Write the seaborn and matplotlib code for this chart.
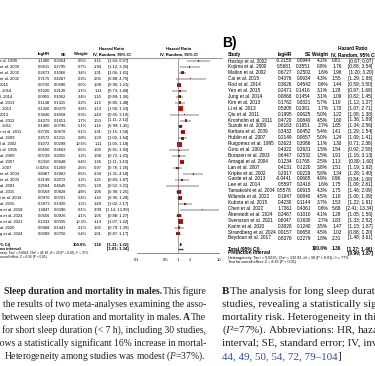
import matplotlib
matplotlib.use('Agg')  # no display

import numpy as np
import pandas as pd
import matplotlib.pyplot as plt
from matplotlib.ticker import NullLocator
import seaborn as sns

# === Panel A: short sleep (< 7 h), study names are cut by the page edge ===
studyA = ["t al. 1990", "et al. 2000", "et al. 2002", "et al. 2002", "2015",
          ". 2014", "l. 2014", "al. 2013", ". 2013", "2013",
          "al. 2012", ". 2011", "r et al. 2011", "al. 2009", "l al. 2002",
          "t al. 1995", "al. 2009", "al. 2007", ". 2007", "et al. 2004",
          "et al. 2003", "al. 2003", "al. 2015", "i et al. 2004", "al. 2015",
          "a et al. 2018", "a et al. 2024", "n et al. 2021", "al. 2020", "g et al. 2024"]
logA = [1.1460, 0.6611, 0.2673, 0.7175, 0.0726, 0.1020, 0.0955, 0.1148, 0.1326, 0.3646,
        0.4279, 0.1460, 0.2726, 0.2572, 0.1072, 0.0550, 0.0739, 0.2310, -0.0256, 0.8487,
        0.2198, 0.2564, 0.0569, 0.0976, 0.3973, 1.3847, 0.0556, 0.1333, 0.0468, 0.0089]
seA = [0.3354, 0.2795, 0.1066, 0.4287, 0.0586, 0.2126, 0.1062, 0.1415, 0.0379, 0.4058,
       0.1651, 0.0796, 0.0678, 0.1211, 0.0298, 0.2803, 0.2055, 0.0648, 0.1269, 0.2962,
       0.2072, 0.4645, 0.0828, 0.0761, 0.1926, 0.6396, 0.0926, 0.0335, 0.1441, 0.0756]
wA = [0.5, 0.7, 3.4, 0.3, 6.0, 1.1, 3.4, 2.2, 9.6, 0.3,
      1.7, 5.1, 6.1, 2.8, 10.6, 0.6, 1.2, 6.4, 2.6, 0.6,
      1.2, 0.2, 4.8, 5.4, 1.3, 0.1, 4.1, 10.2, 2.1, 5.4]
hrA = [3.15, 1.94, 1.31, 2.05, 1.08, 1.11, 1.10, 1.12, 1.14, 1.44,
       1.53, 1.16, 1.31, 1.29, 1.11, 1.06, 1.08, 1.26, 0.97, 2.34,
       1.25, 1.29, 1.06, 1.10, 1.49, 3.99, 1.06, 1.14, 1.05, 1.01]
loA = [1.63, 1.12, 1.06, 0.88, 0.96, 0.73, 0.89, 0.85, 1.06, 0.65,
       1.11, 0.99, 1.15, 1.02, 1.05, 0.61, 0.72, 1.11, 0.76, 1.31,
       0.83, 0.52, 0.90, 0.95, 1.02, 1.14, 0.88, 1.07, 0.79, 0.87]
hiA = [6.07, 3.35, 1.61, 4.75, 1.21, 1.68, 1.36, 1.48, 1.23, 3.19,
       2.12, 1.35, 1.50, 1.64, 1.18, 1.83, 1.61, 1.43, 1.25, 4.18,
       1.87, 3.21, 1.25, 1.28, 2.17, 13.99, 1.27, 1.22, 1.39, 1.17]
totalA = [1.16, 1.11, 1.22]
predA = [1.01, 1.34]
hetA = "neity: Tau² = 0.0041; Chi² = 46.18, df = 29 (P = 0.02); I² = 37%"
testA = "overall effect: Z = 6.56 (P < 0.01)"

# === Panel B: long sleep (> 8 h) ===
studyB = ["Heslop et al. 2002", "Kojima et al. 2000", "Mallon et al. 2002", "Cai et al. 2015",
          "Rod et al. 2014", "Yeo et al. 2015", "Jung et al. 2014", "Kim et al. 2013",
          "Li et al. 2013", "Qiu et al. 2011", "Kronholm et al. 2011", "Suzuki et al. 2009",
          "Ikehara et al. 2009", "Hublin et al. 2007", "Ruigomez et al. 1995", "Goto et al. 2003",
          "Burazeri et al. 2003", "Amagai et al. 2004", "Lan et al. 2007", "Kripke et al. 2002",
          "Garde et al. 2013", "Lee et al. 2014", "Tamakoshi et al. 2004", "Wilunda et al. 2022",
          "Kubota et al. 2015", "Chen et al. 2022", "Åkerstedt et al. 2024", "Svensson et al. 2021",
          "Karim et al. 2020", "Strandberg et al. 2024", "Beydoun et al. 2017"]
logB = [-0.2155, 0.5681, 0.6727, 0.4376, 0.3626, 0.2471, 0.0868, 0.1762, 0.5305, 0.1995,
        0.4720, 0.6163, 0.3432, 0.2149, 0.2623, 0.4322, 0.6447, 0.1234, 0.4131, 0.2917,
        -0.0441, 0.5597, 0.5578, 0.1647, 0.4230, 1.7361, 0.2467, 0.6047, 0.3828, 0.0157, 0.8379]
seB = [0.0944, 0.3551, 0.2502, 0.0934, 0.4542, 0.1416, 0.1454, 0.0321, 0.2381, 0.0625,
       0.0840, 0.1651, 0.0452, 0.0657, 0.3086, 0.2631, 0.2532, 0.1768, 0.1220, 0.0229,
       0.0665, 0.2416, 0.0915, 0.0840, 0.1144, 0.4361, 0.1010, 0.1630, 0.1240, 0.0650, 0.2279]
wB = [4.2, 0.8, 1.6, 4.3, 0.6, 3.1, 3.1, 5.7, 1.7, 5.0,
      4.5, 2.7, 5.4, 5.0, 1.1, 1.5, 1.5, 2.5, 3.8, 5.8,
      4.9, 1.6, 4.3, 4.5, 3.7, 0.6, 4.1, 2.7, 3.5, 4.5, 1.8]
hrB = [0.81, 1.76, 1.96, 1.55, 1.44, 1.28, 1.09, 1.19, 1.70, 1.22,
       1.60, 1.85, 1.41, 1.24, 1.30, 1.54, 1.91, 1.13, 1.51, 1.34,
       0.96, 1.75, 1.75, 1.18, 1.53, 5.68, 1.28, 1.83, 1.47, 1.02, 2.31]
loB = [0.67, 0.88, 1.20, 1.29, 0.59, 0.97, 0.82, 1.12, 1.07, 1.08,
       1.36, 1.34, 1.29, 1.09, 0.71, 0.92, 1.16, 0.80, 1.19, 1.28,
       0.84, 1.09, 1.46, 1.00, 1.22, 2.41, 1.05, 1.33, 1.15, 0.88, 1.48]
hiB = [0.97, 3.54, 3.20, 1.86, 3.50, 1.69, 1.45, 1.27, 2.71, 1.38,
       1.89, 2.56, 1.54, 1.41, 2.38, 2.58, 3.13, 1.60, 1.92, 1.40,
       1.09, 2.81, 2.09, 1.39, 1.91, 13.34, 1.56, 2.52, 1.87, 1.20, 3.61]
totalB = [1.36, 1.27, 1.46]
predB = [0.99, 1.87]
hetB = "Heterogeneity: Tau² = 0.0225; Chi² = 132.92, df = 30 (P < 0.01); I² = 77%"
testB = "Test for overall effect: Z = 8.45 (P < 0.01)"

ticks = [0.1, 0.5, 1, 2, 10]
tick_labels = ["0.1", "0.5", "1", "2", "10"]

# === Style ===
sns.set_style('white')
plt.rcParams['font.family'] = ['Liberation Sans', 'DejaVu Sans']
plt.rcParams['mathtext.fontset'] = 'custom'
plt.rcParams['mathtext.rm'] = 'Liberation Serif'
plt.rcParams['mathtext.it'] = 'Liberation Serif:italic'

W, H = 375, 366
fig = plt.figure(figsize=(W / 100, H / 100), dpi=100)
ax = fig.add_axes([0, 0, 1, 1])
ax.set_xlim(0, W)
ax.set_ylim(H, 0)
ax.axis('off')

fsA, fsB = 3.0, 3.4
rowsA = 61 + 5.95 * np.arange(len(studyA))
rowsB = 61 + 5.9 * np.arange(len(studyB))


def txt(x, y, s, size, ha='left', bold=False, **kw):
    return ax.text(x, y, s, fontsize=size, ha=ha, va='center',
                   fontweight='bold' if bold else 'normal', color='black', **kw)


def ci(lo, hi):
    return f"[{lo:.2f}; {hi:.2f}]"


# --- table A ---
txt(112, 49, "Hazard Ratio", fsA, 'center', True)
txt(179, 49, "Hazard Ratio", fsA, 'center', True)
txt(50, 54.5, "logHR", fsA, 'right', True)
txt(66, 54.5, "SE", fsA, 'right', True)
txt(88, 54.5, "Weight", fsA, 'right', True)
txt(112, 54.5, "IV, Random, 95% CI", fsA, 'center', True)
txt(179, 54.5, "IV, Random, 95% CI", fsA, 'center', True)
ax.plot([0, 222], [57.5, 57.5], color='#444444', lw=0.4)

for i, y in enumerate(rowsA):
    txt(0, y, studyA[i], fsA)
    txt(50, y, f"{logA[i]:.4f}", fsA, 'right')
    txt(66, y, f"{seA[i]:.4f}", fsA, 'right')
    txt(87, y, f"{wA[i]:.1f}%", fsA, 'right')
    txt(102, y, f"{hrA[i]:.2f}", fsA, 'right')
    txt(128.5, y, ci(loA[i], hiA[i]), fsA, 'right')

yTotA = rowsA[-1] + 11
yPredA = yTotA + 4
txt(0, yTotA, "% CI)", fsA, bold=True)
txt(87, yTotA, "100.0%", fsA, 'right', True)
txt(102, yTotA, f"{totalA[0]:.2f}", fsA, 'right', True)
txt(128.5, yTotA, ci(totalA[1], totalA[2]), fsA, 'right', True)
txt(0, yPredA, "on interval", fsA, bold=True)
txt(128.5, yPredA, ci(predA[0], predA[1]), fsA, 'right', True)
txt(0, yPredA + 4, hetA, 2.3)
txt(0, yPredA + 8, testA, 2.3)

# --- forest A ---
fax = fig.add_axes([137 / W, 1 - 253 / H, 82 / W, (253 - 57.5) / H])
fax.set_facecolor('none')
forestA = pd.DataFrame({'hr': hrA, 'lo': loA, 'hi': hiA, 'w': wA, 'y': rowsA})
fax.hlines(forestA['y'], forestA['lo'], forestA['hi'], color='black', lw=0.35)
sns.scatterplot(data=forestA, x='hr', y='y', size='w', size_norm=(0, max(wA)),
                sizes=(0, 14), marker='s', color='#cc1111', linewidth=0,
                legend=False, ax=fax)
fax.axvline(1, color='#555555', lw=0.4)
fax.fill([totalA[1], totalA[0], totalA[2], totalA[0]],
         [yTotA, yTotA - 1.6, yTotA, yTotA + 1.6], facecolor='#222222', edgecolor='black', lw=0.3)
fax.hlines(yPredA, predA[0], predA[1], color='#aa1111', lw=1.0)
fax.set_xscale('log')
fax.set_xlim(0.1, 10)
fax.set_ylim(253, 57.5)
fax.set_xticks(ticks)
fax.set_xticklabels(tick_labels, fontsize=fsA)
fax.xaxis.set_minor_locator(NullLocator())
fax.set_yticks([])
fax.set_xlabel('')
fax.set_ylabel('')
fax.tick_params(axis='x', length=2, width=0.4, pad=1.5, colors='black')
for side in ['left', 'right', 'top']:
    fax.spines[side].set_visible(False)
fax.spines['bottom'].set_linewidth(0.4)
fax.spines['bottom'].set_color('#333333')

# --- table B ---
ax.text(222, 43, "B)", fontsize=10, fontweight='bold', va='center', ha='left', color='black')
txt(353, 49, "Hazard Ratio", fsB, 'center', True)
txt(228, 54.5, "Study", fsB, bold=True)
txt(292, 54.5, "logHR", fsB, 'right', True)
txt(311, 54.5, "SE", fsB, 'right', True)
txt(328, 54.5, "Weight", fsB, 'right', True)
txt(353, 54.5, "IV, Random, 95% CI", fsB, 'center', True)
ax.plot([228, W], [57.5, 57.5], color='#444444', lw=0.4)

for i, y in enumerate(rowsB):
    txt(228, y, studyB[i], fsB)
    txt(292, y, f"{logB[i]:.4f}", fsB, 'right')
    txt(311, y, f"{seB[i]:.4f}", fsB, 'right')
    txt(328, y, f"{wB[i]:.1f}%", fsB, 'right')
    txt(341.5, y, f"{hrB[i]:.2f}", fsB, 'right')
    txt(372.5, y, ci(loB[i], hiB[i]), fsB, 'right')

yTotB = rowsB[-1] + 11
yPredB = yTotB + 4
txt(228, yTotB, "Total (95% CI)", fsB, bold=True)
txt(328, yTotB, "100.0%", fsB, 'right', True)
txt(341.5, yTotB, f"{totalB[0]:.2f}", fsB, 'right', True)
txt(372.5, yTotB, ci(totalB[1], totalB[2]), fsB, 'right', True)
txt(228, yPredB, "Prediction interval", fsB, bold=True)
txt(372.5, yPredB, ci(predB[0], predB[1]), fsB, 'right', True)
txt(228, yPredB + 4.5, hetB, 2.7)
txt(228, yPredB + 8.5, testB, 2.7)

# --- caption, two columns cut by the crop ---
renderer = fig.canvas.get_renderer()
ink = '#231f20'
B_ = {'fontweight': 'bold'}
N_ = {}


def style(st, size):
    kw = {'color': ink, 'family': 'Liberation Serif', 'fontsize': size, 'va': 'baseline'}
    kw.update(st)
    return kw


def ink_width(s, st, size):
    t = ax.text(0, 100, s, **style(st, size))
    w = t.get_window_extent(renderer).width
    t.remove()
    return w


def right_line(x1, y, parts, size):
    # segments laid out from the right edge of the column
    x = x1
    for s, st in reversed(parts):
        ax.text(x, y, s, ha='right', **style(st, size))
        x -= ink_width(s, st, size) + 1


capfsA, capfsB = 6.95, 7.9
capA = [
    [("Sleep duration and mortality in males.", B_), ("This figure", N_)],
    [("the results of two meta-analyses examining the asso-", N_)],
    [("between sleep duration and mortality in males.", N_), ("A", B_), ("The", N_)],
    [("for short sleep duration (< 7 h), including 30 studies,", N_)],
    [("shows a statistically significant 16% increase in mortal-", N_)],
    [("Heterogeneity among studies was modest ($\\mathit{I}$²=37%).", N_)],
]
for k, parts in enumerate(capA):
    right_line(206, 294 + 13 * k, parts, capfsA)

capB = [
    "The analysis for long sleep duration (> 8 h), including 31",
    "studies, revealing a statistically significant 36% increase in",
    "mortality risk. Heterogeneity in this analysis was substantial",
    "($\\mathit{I}$²=77%). Abbreviations: HR, hazard ratio; CI, confidence",
    "interval; SE, standard error; IV, inverse variance. Source: [",
]
xB = 222
ax.text(xB, 294, "B", ha='left', **style(B_, capfsB))
for k, line in enumerate(capB):
    x = xB + ink_width("B", B_, capfsB) + 1 if k == 0 else xB
    ax.text(x, 294 + 13 * k, line, ha='left', **style(N_, capfsB))
refs = "44, 49, 50, 54, 72, 79–104"
ax.text(xB, 294 + 13 * 5, refs, ha='left', **style({'color': '#2e4fa3'}, capfsB))
ax.text(xB + ink_width(refs, N_, capfsB), 294 + 13 * 5, "]", ha='left', **style(N_, capfsB))

fig.savefig("out.png", dpi=100)
plt.close(fig)
